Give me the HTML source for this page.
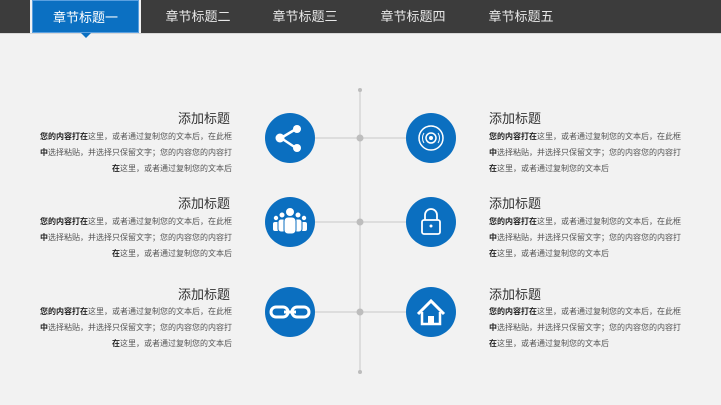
<!DOCTYPE html>
<html><head><meta charset="utf-8"><style>
body{margin:0;width:721px;height:405px;background:#f2f2f2;position:relative;overflow:hidden;font-family:"Liberation Sans","Noto Sans CJK SC",sans-serif}
.bar{position:absolute;top:0;left:0;width:721px;height:33px;background:#3c3c3c;border-bottom:1px solid #d8d8d8}
.gap{position:absolute;top:0;width:2px;height:33px;background:#f2f2f2}
.tab{position:absolute;top:0;height:33px;line-height:33px;color:#e8e8e8;font-size:13px;text-align:center;width:110px}
.act{background:#0b70c2;border:1px solid #5aa0e0;box-sizing:border-box;color:#fff}
.t{position:absolute;font-size:13px;color:#333}
.b{position:absolute;font-size:8px;color:#555;line-height:16px;width:200px}
.b b{color:#222}
.l{text-align:right}
</style></head><body>
<div class="bar"></div>
<div class="gap" style="left:30px"></div><div class="gap" style="left:139px"></div>
<div class="tab act" style="left:32px;width:107px">章节标题一</div>
<div style="position:absolute;left:81px;top:33px;width:0;height:0;border-left:5px solid transparent;border-right:5px solid transparent;border-top:5px solid #0b70c2"></div>
<div class="tab" style="left:143px">章节标题二</div>
<div class="tab" style="left:250px">章节标题三</div>
<div class="tab" style="left:358px">章节标题四</div>
<div class="tab" style="left:466px">章节标题五</div>
<svg width="721" height="405" style="position:absolute;left:0;top:0">
<g stroke="#d6d6d6" stroke-width="1.5">
<line x1="360" y1="90" x2="360" y2="372"/>
<line x1="315" y1="138" x2="406" y2="138"/>
<line x1="315" y1="222" x2="406" y2="222"/>
<line x1="315" y1="312" x2="406" y2="312"/>
</g>
<g fill="#bdbdbd"><circle cx="360" cy="90" r="2"/><circle cx="360" cy="372" r="2"/>
<circle cx="360" cy="138" r="3.5"/><circle cx="360" cy="222" r="3.5"/><circle cx="360" cy="312" r="3.5"/></g>
<g fill="#0b6fc0"><circle cx="290" cy="138" r="25"/><circle cx="431" cy="138" r="25"/>
<circle cx="290" cy="222" r="25"/><circle cx="431" cy="222" r="25"/>
<circle cx="290" cy="312" r="25"/><circle cx="431" cy="312" r="25"/></g>
<g fill="#fff" stroke="#fff">
<line x1="296" y1="129" x2="281" y2="138" stroke-width="2.5"/><line x1="296" y1="148" x2="281" y2="138" stroke-width="2.5"/>
<circle cx="297" cy="129" r="4" stroke="none"/><circle cx="297" cy="148" r="4" stroke="none"/><circle cx="280" cy="138" r="4.5" stroke="none"/>
</g>
<g fill="none" stroke="#fff">
<circle cx="431" cy="138" r="12" stroke-width="1.5"/><circle cx="431" cy="138" r="5" stroke-width="1.5"/><circle cx="431" cy="138" r="1.5" fill="#fff"/>
<path d="M424 133 A9 9 0 0 0 424 143 M438 133 A9 9 0 0 1 438 143" stroke-width="1"/>
</g>
<g fill="#0b6fc0" stroke="#0b6fc0" stroke-width="1">
<circle cx="276" cy="218" r="2.2" fill="#fff" stroke="none"/><rect x="273" y="222" width="6" height="9" rx="2" fill="#fff" stroke="none"/>
<circle cx="304" cy="218" r="2.2" fill="#fff" stroke="none"/><rect x="301" y="222" width="6" height="9" rx="2" fill="#fff" stroke="none"/>
<circle cx="282" cy="215" r="3" fill="#fff"/><rect x="278" y="219" width="8" height="13" rx="3" fill="#fff"/>
<circle cx="298" cy="215" r="3" fill="#fff"/><rect x="294" y="219" width="8" height="13" rx="3" fill="#fff"/>
<circle cx="290" cy="212" r="4.5" fill="#fff"/><rect x="284" y="217" width="12" height="17" rx="4" fill="#fff"/>
</g>
<g fill="none" stroke="#fff" stroke-width="1.8">
<path d="M425 220 v-5 a6 6 0 0 1 12 0 v5"/><rect x="422" y="220" width="18" height="14" rx="2"/>
</g>
<circle cx="431" cy="226" r="1.5" fill="#fff"/>
<g fill="none" stroke="#fff" stroke-width="3">
<rect x="271" y="307" width="17" height="10" rx="5"/><rect x="292" y="307" width="17" height="10" rx="5"/>
<line x1="284" y1="312" x2="296" y2="312"/>
</g>
<path d="M418 314 L431 301 L444 314" fill="none" stroke="#fff" stroke-width="3"/>
<path d="M422 312 v12 h18 v-12" fill="none" stroke="#fff" stroke-width="2.5"/>
<rect x="428" y="316" width="6" height="8" fill="#fff"/>
</svg>
<div class="t" style="left:178px;top:108px">添加标题</div>
<div class="b l" style="left:32px;top:129px"><b>您的内容打在</b>这里，或者通过复制您的文本后，在此框<br><b>中</b>选择粘贴，并选择只保留文字；您的内容您的内容打<br><b>在</b>这里，或者通过复制您的文本后</div>
<div class="t" style="left:178px;top:193px">添加标题</div>
<div class="b l" style="left:32px;top:214px"><b>您的内容打在</b>这里，或者通过复制您的文本后，在此框<br><b>中</b>选择粘贴，并选择只保留文字；您的内容您的内容打<br><b>在</b>这里，或者通过复制您的文本后</div>
<div class="t" style="left:178px;top:284px">添加标题</div>
<div class="b l" style="left:32px;top:304px"><b>您的内容打在</b>这里，或者通过复制您的文本后，在此框<br><b>中</b>选择粘贴，并选择只保留文字；您的内容您的内容打<br><b>在</b>这里，或者通过复制您的文本后</div>
<div class="t" style="left:489px;top:108px">添加标题</div>
<div class="b" style="left:489px;top:129px"><b>您的内容打在</b>这里，或者通过复制您的文本后，在此框<br><b>中</b>选择粘贴，并选择只保留文字；您的内容您的内容打<br><b>在</b>这里，或者通过复制您的文本后</div>
<div class="t" style="left:489px;top:193px">添加标题</div>
<div class="b" style="left:489px;top:214px"><b>您的内容打在</b>这里，或者通过复制您的文本后，在此框<br><b>中</b>选择粘贴，并选择只保留文字；您的内容您的内容打<br><b>在</b>这里，或者通过复制您的文本后</div>
<div class="t" style="left:489px;top:284px">添加标题</div>
<div class="b" style="left:489px;top:304px"><b>您的内容打在</b>这里，或者通过复制您的文本后，在此框<br><b>中</b>选择粘贴，并选择只保留文字；您的内容您的内容打<br><b>在</b>这里，或者通过复制您的文本后</div>
</body></html>
